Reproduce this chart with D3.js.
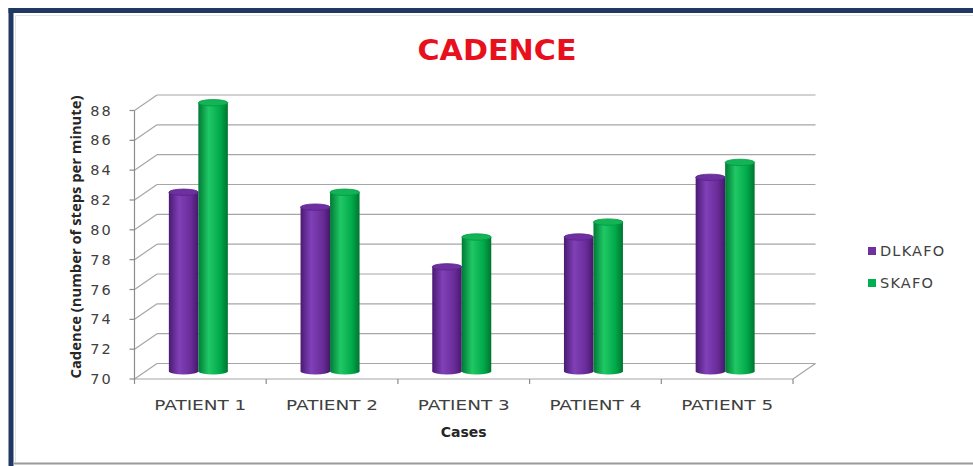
<!DOCTYPE html>
<html>
<head>
<meta charset="utf-8">
<script src="https://cdn.jsdelivr.net/npm/d3@7"></script>
<style>
  body { margin: 0; background: #fff; }
  svg { display: block; }
  .tick-label { font-family: "DejaVu Sans", sans-serif; fill: #404040; }
</style>
</head>
<body>
<svg width="973" height="466"></svg>
<script>
// data
const patients = ["PATIENT 1", "PATIENT 2", "PATIENT 3", "PATIENT 4", "PATIENT 5"];
const series = ["DLKAFO", "SKAFO"];
const dlkafo = [82, 81, 77, 79, 83];
const skafo = [88, 82, 79, 80, 84];
const yTicks = [70, 72, 74, 76, 78, 80, 82, 84, 86, 88];

const svg = d3.select("svg");

// frame round the picture (dark blue top and left, light bottom)
svg.append("line")
    .attr("x1", 8.5).attr("x2", 973).attr("y1", 10.5).attr("y2", 10.5)
    .attr("stroke", "#1f3864").attr("stroke-width", 5)
svg.append("line")
    .attr("x1", 11).attr("x2", 11).attr("y1", 8).attr("y2", 466)
    .attr("stroke", "#1f3864").attr("stroke-width", 5)
svg.append("line")
    .attr("x1", 15.5).attr("x2", 973).attr("y1", 15.5).attr("y2", 15.5)
    .attr("stroke", "#e3e3e3").attr("stroke-width", 1)
svg.append("line")
    .attr("x1", 15.5).attr("x2", 15.5).attr("y1", 15.5).attr("y2", 462)
    .attr("stroke", "#e3e3e3").attr("stroke-width", 1)
svg.append("line")
    .attr("x1", 13).attr("x2", 973).attr("y1", 463.5).attr("y2", 463.5)
    .attr("stroke", "#9a9a9a").attr("stroke-width", 2)

// scales (front plane), back wall is shifted by depth
const y = d3.scaleLinear().domain([70, 88]).range([379, 110.5]);
const x = d3.scaleBand().domain(patients).range([134.5, 793]);
const xs = d3.scaleBand().domain(series).range([0, 59]);
const depth = { dx: 22.5, dy: -15.5 };
const color = d3.scaleOrdinal().domain(series).range(["#7030a0", "#00b050"]);

// gradients for the cylinders
const defs = svg.append("defs");
const shades = {
  DLKAFO: ["#4a1a72", "#8040b8", "#6a2c98", "#46186c"],
  SKAFO: ["#007a35", "#20c865", "#00a84a", "#00752f"]
};
series.forEach(s => {
  const g = defs.append("linearGradient").attr("id", "grad-" + s)
      .attr("x1", 0).attr("x2", 1).attr("y1", 0).attr("y2", 0);
  g.append("stop").attr("offset", "0%").attr("stop-color", shades[s][0]);
  g.append("stop").attr("offset", "35%").attr("stop-color", shades[s][1]);
  g.append("stop").attr("offset", "75%").attr("stop-color", shades[s][2]);
  g.append("stop").attr("offset", "100%").attr("stop-color", shades[s][3]);
});

// back wall gridlines + side wall diagonals
const grid = svg.append("g").attr("stroke", "#a6a6a6").attr("stroke-width", 1.2).attr("fill", "none");
yTicks.forEach(t => {
  grid.append("line")
      .attr("x1", x.range()[0] + depth.dx).attr("x2", x.range()[1] + depth.dx)
      .attr("y1", y(t) + depth.dy).attr("y2", y(t) + depth.dy);
  grid.append("line")
      .attr("x1", x.range()[0]).attr("x2", x.range()[0] + depth.dx)
      .attr("y1", y(t)).attr("y2", y(t) + depth.dy);
});
// floor front edge and right edge
grid.append("line")
    .attr("x1", x.range()[0]).attr("x2", x.range()[1])
    .attr("y1", y(70)).attr("y2", y(70));
grid.append("line")
    .attr("x1", x.range()[1]).attr("x2", x.range()[1] + depth.dx)
    .attr("y1", y(70)).attr("y2", y(70) + depth.dy);

// cylinders
const rows = patients.map((p, i) => ({ p, vals: [dlkafo[i], skafo[i]] }));
const ry = 3.2;
const midY = v => y(v) + depth.dy / 2;
const groups = svg.append("g").selectAll("g").data(rows).join("g")
    .attr("transform", d => `translate(${x(d.p) + x.bandwidth() / 2 - 2 - xs.range()[1] / 2},0)`);
groups.each(function (d) {
  const g = d3.select(this);
  series.forEach((s, j) => {
    const v = d.vals[j];
    const x0 = xs(s), w = xs.bandwidth();
    g.append("ellipse")
        .attr("cx", x0 + w / 2).attr("cy", midY(70))
        .attr("rx", w / 2).attr("ry", ry)
        .attr("fill", `url(#grad-${s})`);
    g.append("rect")
        .attr("x", x0).attr("y", midY(v))
        .attr("width", w).attr("height", midY(70) - midY(v))
        .attr("fill", `url(#grad-${s})`);
    g.append("ellipse")
        .attr("cx", x0 + w / 2).attr("cy", midY(v))
        .attr("rx", w / 2).attr("ry", ry)
        .attr("fill", s === "DLKAFO" ? "#6e2fa0" : "#12b455")
        .attr("stroke", s === "DLKAFO" ? "#5a2388" : "#009a42")
        .attr("stroke-width", 0.8);
  });
});

// front value axis
const ax = svg.append("g").attr("stroke", "#8c8c8c").attr("stroke-width", 1.2);
ax.append("line")
    .attr("x1", x.range()[0]).attr("x2", x.range()[0])
    .attr("y1", y(88)).attr("y2", y(70));
yTicks.forEach(t => {
  ax.append("line")
      .attr("x1", x.range()[0] - 5).attr("x2", x.range()[0])
      .attr("y1", y(t)).attr("y2", y(t));
});
// category ticks
x.domain().concat(["end"]).forEach((p, i) => {
  const xx = x.range()[0] + i * x.step();
  ax.append("line")
      .attr("x1", xx).attr("x2", xx)
      .attr("y1", y(70)).attr("y2", y(70) + 5);
});

svg.append("g").selectAll("text").data(yTicks).join("text")
    .attr("class", "tick-label")
    .attr("x", 113).attr("y", d => y(d) + 1)
    .attr("text-anchor", "end")
    .attr("dominant-baseline", "middle")
    .attr("font-size", 14.5)
    .attr("letter-spacing", 2.2)
    .text(d => d);

svg.append("g").selectAll("text").data(patients).join("text")
    .attr("class", "tick-label")
    .attr("x", d => x(d) + x.bandwidth() / 2)
    .attr("y", 410)
    .attr("text-anchor", "middle")
    .attr("font-size", 14)
    .attr("textLength", 92)
    .attr("lengthAdjust", "spacingAndGlyphs")
    .text(d => d);

// axis titles
svg.append("text")
    .attr("x", (x.range()[0] + x.range()[1]) / 2)
    .attr("y", 437)
    .attr("text-anchor", "middle")
    .attr("font-family", "DejaVu Sans, sans-serif")
    .attr("font-weight", "bold")
    .attr("font-size", 14)
    .attr("fill", "#262626")
    .text("Cases");

svg.append("text")
    .attr("transform", "translate(81,237) rotate(-90)")
    .attr("text-anchor", "middle")
    .attr("font-family", "Open Sans, sans-serif")
    .attr("font-weight", "bold")
    .attr("font-size", 14)
    .attr("fill", "#262626")
    .attr("textLength", 283)
    .attr("lengthAdjust", "spacingAndGlyphs")
    .text("Cadence (number of steps per minute)");

// title
svg.append("text")
    .attr("x", 497).attr("y", 60)
    .attr("text-anchor", "middle")
    .attr("font-family", "DejaVu Sans, sans-serif")
    .attr("font-weight", "bold")
    .attr("font-size", 29)
    .attr("fill", "#e8101c")
    .attr("textLength", 159)
    .attr("lengthAdjust", "spacingAndGlyphs")
    .text("CADENCE");

// legend
const legend = svg.append("g").selectAll("g").data(series).join("g")
    .attr("transform", (d, i) => `translate(868,${247 + i * 32})`);
legend.append("rect")
    .attr("width", 8).attr("height", 8)
    .attr("fill", d => color(d));
legend.append("text")
    .attr("class", "tick-label")
    .attr("x", 12).attr("y", 4.5)
    .attr("dominant-baseline", "middle")
    .attr("font-size", 14.5)
    .attr("letter-spacing", 1.2)
    .text(d => d);
</script>
</body>
</html>
